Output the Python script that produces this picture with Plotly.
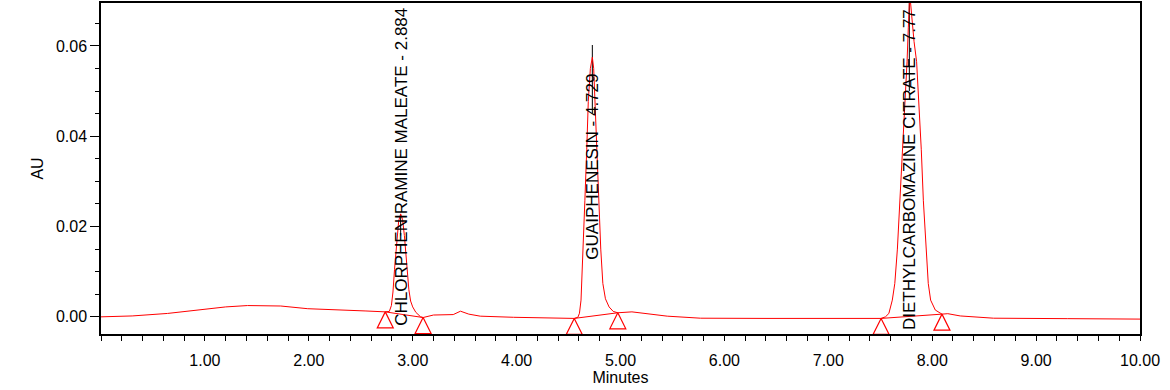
import plotly.graph_objects as go

# Chromatogram trace (minutes, AU)
times = [0.00, 0.30, 0.64, 0.96, 1.20, 1.41, 1.73, 1.99, 2.31, 2.55, 2.736,
         2.775, 2.795, 2.81, 2.825, 2.845, 2.865, 2.884, 2.903, 2.92, 2.935, 2.95,
         2.963, 2.98, 3.00, 3.03, 3.076, 3.10, 3.20, 3.39, 3.46, 3.54, 3.65, 3.97,
         4.29, 4.555, 4.59, 4.605, 4.62, 4.64, 4.657, 4.675, 4.69, 4.71, 4.729,
         4.742, 4.754, 4.77, 4.79, 4.81, 4.83, 4.855, 4.89, 4.93, 4.974, 5.11,
         5.45, 5.77, 6.41, 7.05, 7.508, 7.55, 7.583, 7.616, 7.64, 7.665, 7.69,
         7.715, 7.738, 7.758, 7.77, 7.78, 7.79, 7.805, 7.825, 7.85, 7.873, 7.895,
         7.915, 7.94, 7.962, 7.985, 8.03, 8.094, 8.15, 8.27, 8.47, 8.59, 9.30, 10.00]
au = [0.0000, 0.0002, 0.00075, 0.0016, 0.0022, 0.0025, 0.0024, 0.0018, 0.0016, 0.0013, 0.0011,
      0.0012, 0.0025, 0.0055, 0.0105, 0.0165, 0.0212, 0.0228, 0.0215, 0.0180, 0.0140, 0.0100,
      0.0060, 0.0035, 0.0022, 0.0010, 0.0000, -0.00015, 0.0004, 0.0005, 0.00125, 0.0006, 0.00015, -0.0001,
      -0.0003, -0.00035, -0.0001, 0.0008, 0.0037, 0.0140, 0.0257, 0.0370, 0.0477, 0.0550, 0.0575,
      0.0550, 0.0477, 0.0370, 0.0257, 0.0150, 0.0074, 0.0040, 0.0022, 0.0012, 0.0009, 0.0011,
      0.00015, -0.0003, -0.00035, -0.00035, -0.00035, 0.0000, 0.00075, 0.0037, 0.0074, 0.0150, 0.0257,
      0.0380, 0.0477, 0.0565, 0.0640, 0.0695, 0.0700, 0.0660, 0.0610, 0.0565, 0.0477, 0.0370,
      0.0257, 0.0150, 0.0074, 0.0037, 0.0015, 0.0006, 0.0007, 0.0002, -0.0001, -0.0003, -0.0004, -0.0005]

# Peaks
peak_names = ["CHLORPHENIRAMINE MALEATE", "GUAIPHENESIN", "DIETHYLCARBOMAZINE CITRATE"]
peak_rt_labels = ["2.884", "4.729", "7.77"]
peak_rt = [2.884, 4.729, 7.78]
peak_start_t = [2.736, 4.555, 7.508]
peak_start_au = [0.0011, -0.00035, -0.00035]
peak_end_t = [3.10, 4.974, 8.094]
peak_end_au = [-0.00015, 0.0009, 0.0006]
# black apex-marker segments (low, high AU)
apex_low = [0.0180, 0.0450, 0.0500]
apex_high = [0.0226, 0.0602, 0.0700]

x_ticks = [1, 2, 3, 4, 5, 6, 7, 8, 9, 10]
x_ticktext = ["1.00", "2.00", "3.00", "4.00", "5.00", "6.00", "7.00", "8.00", "9.00", "10.00"]
y_ticks = [0.00, 0.02, 0.04, 0.06]
y_ticktext = ["0.00", "0.02", "0.04", "0.06"]

# label layout (where each rotated label's bottom sits, AU)
label_bottom = [-0.0025, 0.0123, -0.0034]

RED = "#ff0000"
FONT = "Liberation Sans, Arial, sans-serif"

fig = go.Figure()

# black apex lines
for i in range(len(peak_rt)):
    fig.add_trace(go.Scatter(x=[peak_rt[i], peak_rt[i]], y=[apex_low[i], apex_high[i]],
                             mode="lines", line=dict(color="black", width=1),
                             hoverinfo="skip", showlegend=False))

# chromatogram
fig.add_trace(go.Scatter(x=times, y=au, mode="lines", line=dict(color=RED, width=1),
                         showlegend=False))

# integration baselines
for i in range(len(peak_rt)):
    fig.add_trace(go.Scatter(x=[peak_start_t[i], peak_end_t[i]], y=[peak_start_au[i], peak_end_au[i]],
                             mode="lines", line=dict(color=RED, width=1),
                             hoverinfo="skip", showlegend=False))

# start/end triangles
fig.add_trace(go.Scatter(x=peak_start_t + peak_end_t, y=peak_start_au + peak_end_au,
                         mode="markers",
                         marker=dict(symbol="arrow-up-open", size=16, color=RED,
                                     line=dict(color=RED, width=1.2)),
                         hoverinfo="skip", showlegend=False))

for i in range(len(peak_rt)):
    fig.add_annotation(x=peak_rt[i], y=label_bottom[i], xref="x", yref="y",
                       text=f"{peak_names[i]} - {peak_rt_labels[i]}",
                       textangle=-90, showarrow=False, xanchor="center", yanchor="bottom",
                       font=dict(family=FONT, size=17, color="black"))

fig.update_layout(
    width=1170, height=390,
    margin=dict(l=101, r=30, t=1, b=56),
    paper_bgcolor="white", plot_bgcolor="white",
    font=dict(family=FONT, size=16, color="black"),
)
fig.update_xaxes(range=[0, 10], tickvals=x_ticks, ticktext=x_ticktext,
                 ticks="outside", ticklen=5, tickwidth=1, tickcolor="black",
                 ticklabelstandoff=6,
                 minor=dict(dtick=0.2, tick0=0, ticks="outside", ticklen=5, tickwidth=1, tickcolor="black"),
                 showline=True, linecolor="black", linewidth=1.5, mirror=True,
                 showgrid=False, zeroline=False,
                 title=dict(text="Minutes", font=dict(size=16), standoff=4),
                 tickfont=dict(size=16))
fig.update_yaxes(range=[-0.0038, 0.0695], tickvals=y_ticks, ticktext=y_ticktext,
                 ticks="outside", ticklen=9, tickwidth=1, tickcolor="black",
                 ticklabelstandoff=0,
                 minor=dict(dtick=0.005, tick0=0, ticks="outside", ticklen=4, tickwidth=1, tickcolor="black"),
                 showline=True, linecolor="black", linewidth=1.5, mirror=True,
                 showgrid=False, zeroline=False,
                 title=dict(text="AU", font=dict(size=16), standoff=8),
                 tickfont=dict(size=16))

fig.write_html("out.html", config={"displayModeBar": False},
               post_script="document.body.style.margin='0';document.body.style.padding='0';")
